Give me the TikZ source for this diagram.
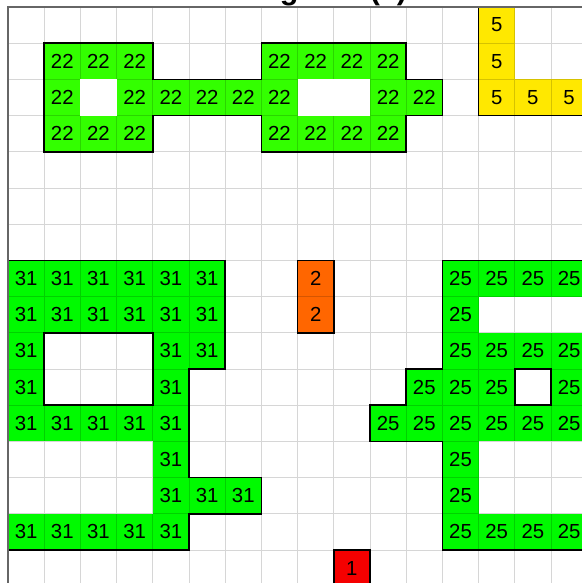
\documentclass[tikz,border=0pt]{standalone}
\usepackage{fontspec}
\setmainfont{Liberation Sans}
\usepackage{tikz}
\usetikzlibrary{positioning}

\definecolor{greenA}{RGB}{51,255,0}
\definecolor{greenB}{RGB}{0,250,0}
\definecolor{yellowE}{RGB}{255,232,0}
\definecolor{orangeB}{RGB}{255,102,0}
\definecolor{redA}{RGB}{245,0,0}

\begin{document}
\begin{tikzpicture}[
    cell/.style={rectangle, minimum size=1cm, inner sep=0pt, font=\fontsize{16}{16}\selectfont},
    region22/.style={cell, fill=greenA},
    region31/.style={cell, fill=greenB},
    region25/.style={cell, fill=greenB},
    region5/.style={cell, fill=yellowE},
    region2/.style={cell, fill=orangeB},
    region1/.style={cell, fill=redA},
    gridline/.style={black, opacity=0.16, line width=0.6pt},
    frame/.style={draw=black!60, line width=1.1pt},
    outline/.style={draw=black, line width=1.3pt, line join=miter},
    >=stealth
]

\useasboundingbox (-0.221,0.193) rectangle (15.856,-15.912);

% Title (cut off above the page)
\node[anchor=base east, font=\bfseries\fontsize{24}{24}\selectfont] (title) at (11.15,0.2) {Connected regions (8)};

% Region 22 (top left)
\foreach \c in {1,2,3,7,8,9,10} \node[region22] (a-1-\c) at (\c+0.5,-1.5) {22};
\foreach \c in {1,3,4,5,6,7,10,11} \node[region22] (a-2-\c) at (\c+0.5,-2.5) {22};
\foreach \c in {1,2,3,7,8,9,10} \node[region22] (a-3-\c) at (\c+0.5,-3.5) {22};

% Region 5 (top right)
\foreach \r in {0,1,2} \node[region5] (e-\r-13) at (13.5,-\r-0.5) {5};
\foreach \c in {14,15,16} \node[region5] (e-2-\c) at (\c+0.5,-2.5) {5};

% Region 31 (left)
\foreach \c in {0,...,5} \node[region31] (b-7-\c) at (\c+0.5,-7.5) {31};
\foreach \c in {0,...,5} \node[region31] (b-8-\c) at (\c+0.5,-8.5) {31};
\foreach \c in {0,4,5} \node[region31] (b-9-\c) at (\c+0.5,-9.5) {31};
\foreach \c in {0,4} \node[region31] (b-10-\c) at (\c+0.5,-10.5) {31};
\foreach \c in {0,...,4} \node[region31] (b-11-\c) at (\c+0.5,-11.5) {31};
\node[region31] (b-12-4) at (4.5,-12.5) {31};
\foreach \c in {4,5,6} \node[region31] (b-13-\c) at (\c+0.5,-13.5) {31};
\foreach \c in {0,...,4} \node[region31] (b-14-\c) at (\c+0.5,-14.5) {31};

% Region 2 and region 1 (middle)
\node[region2] (o-7) at (8.5,-7.5) {2};
\node[region2] (o-8) at (8.5,-8.5) {2};
\node[region1] (r-15) at (9.5,-15.5) {1};

% Region 25 (right)
\foreach \c in {12,...,16} \node[region25] (d-7-\c) at (\c+0.5,-7.5) {25};
\node[region25] (d-8-12) at (12.5,-8.5) {25};
\foreach \c in {12,...,16} \node[region25] (d-9-\c) at (\c+0.5,-9.5) {25};
\foreach \c in {11,12,13,15,16} \node[region25] (d-10-\c) at (\c+0.5,-10.5) {25};
\foreach \c in {10,...,16} \node[region25] (d-11-\c) at (\c+0.5,-11.5) {25};
\node[region25] (d-12-12) at (12.5,-12.5) {25};
\node[region25] (d-13-12) at (12.5,-13.5) {25};
\foreach \c in {12,...,16} \node[region25] (d-14-\c) at (\c+0.5,-14.5) {25};

% Grid over everything
\draw[gridline] (0,0) grid (17,-17);

% Holes of region 22 (plain white)
\fill[white] (2,-2) rectangle (3,-3);
\fill[white] (8,-2) rectangle (10,-3);

% Outlines
\draw[outline] (1,-1) -- (4,-1) -- (4,-2) -- (7,-2) -- (7,-1) -- (11,-1) -- (11,-2) -- (12,-2)
    -- (12,-3) -- (11,-3) -- (11,-4) -- (7,-4) -- (7,-3) -- (4,-3) -- (4,-4) -- (1,-4) -- cycle;
\draw[outline] (13,0) -- (13,-3) -- (17,-3);
\draw[outline] (0,-7) -- (6,-7) -- (6,-10) -- (5,-10) -- (5,-13) -- (7,-13) -- (7,-14) -- (5,-14)
    -- (5,-15) -- (0,-15);
\draw[outline] (1,-9) rectangle (4,-11);
\draw[outline] (8,-7) rectangle (9,-9);
\draw[outline] (9,-15) rectangle (10,-16);
\draw[outline] (17,-7) -- (12,-7) -- (12,-10) -- (11,-10) -- (11,-11) -- (10,-11) -- (10,-12)
    -- (12,-12) -- (12,-15) -- (17,-15);
\draw[outline] (14,-10) rectangle (15,-11);

% Frame
\draw[frame] (0,-17) -- (0,0) -- (17,0);

\end{tikzpicture}
\end{document}
